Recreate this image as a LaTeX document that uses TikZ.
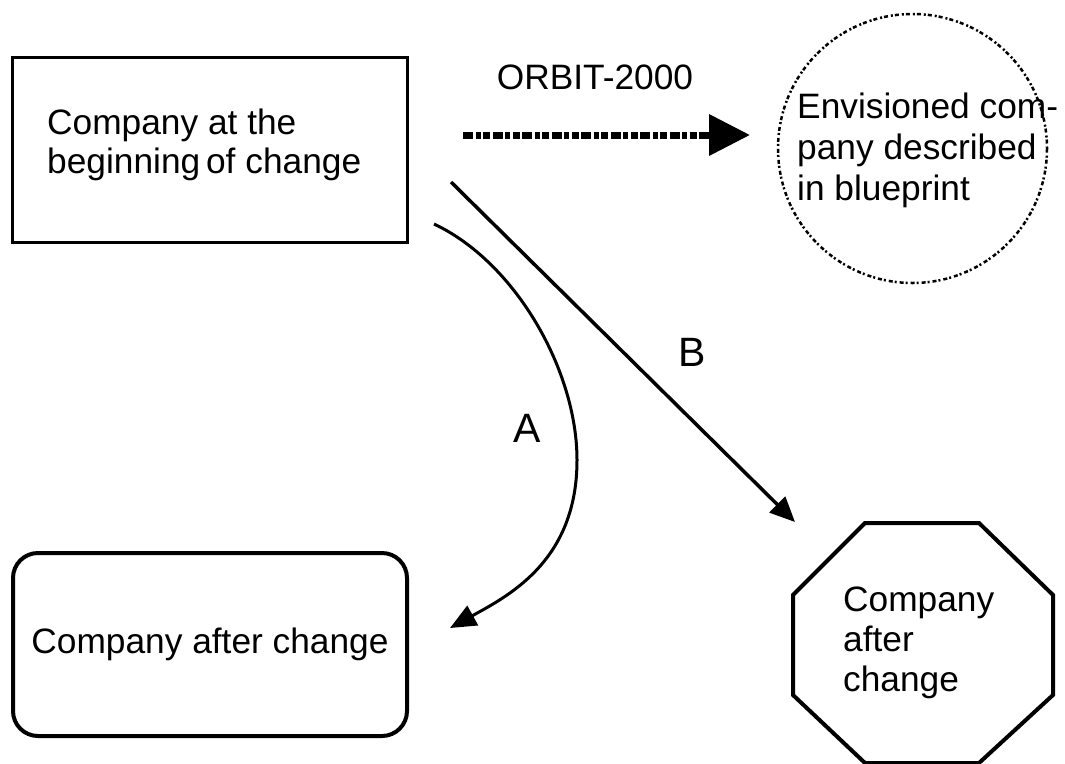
\documentclass[tikz,border=0pt]{standalone}
\usepackage{fontspec}
\setmainfont{Liberation Sans}
\usetikzlibrary{arrows.meta}
\begin{document}
\begin{tikzpicture}[x=1pt,y=-1pt,
  txt/.style={font=\fontsize{35.3}{39}\selectfont, inner sep=0pt, align=left},
  big/.style={font=\fontsize{41}{48}\selectfont, inner sep=0pt},
  boxline/.style={draw, line width=3pt, inner sep=0pt},
  heavy/.style={draw, line width=4pt, inner sep=0pt},
  orbitarrow/.style={line width=7pt, dash pattern=on 10pt off 2.5pt on 5pt off 2.5pt on 7pt off 2.5pt,
     -{Triangle[length=41pt,width=40pt]}},
  plainarrow/.style={line width=3.5pt, -{Triangle[length=25pt,width=22pt]}},
  curvearrow/.style={line width=3pt, -{Triangle[length=26pt,width=22pt]}}]
\useasboundingbox (0,0) rectangle (1065,763);

% top-left box
\node (start) [boxline, minimum width=395pt, minimum height=185pt] at (209.5,149.5) {};
\node (starttxt) [txt, anchor=west] at (47,145) {Company at the\\beginning\,of change};

% envisioned circle
\node (env) [circle, draw, line width=2.5pt, dash pattern=on 2pt off 3pt on 4pt off 2pt,
  minimum size=269pt, inner sep=0pt] at (912.5,148.5) {};
\node (envtxt) [txt, anchor=west, font=\fontsize{35.3}{41}\selectfont] at (797,150)
  {Envisioned com-\\pany described\\in blueprint};

% ORBIT-2000 arrow
\coordinate (o1) at (463,135);
\coordinate (o2) at (750,135);
\draw[orbitarrow] (o1) -- (o2);
\node (orbit) [txt] at (595,77) {ORBIT-2000};

% bottom-left rounded box
\node (after) [heavy, rounded corners=25pt, minimum width=394pt, minimum height=183pt,
  font=\fontsize{35.3}{39}\selectfont] at (210,644.5) {Company after change};

% octagon
\draw[line width=4pt, line join=miter] (865,523) -- (979,523) -- (1053,595) -- (1053,695)
  -- (979,763) -- (865,763) -- (793,695) -- (793,595) -- cycle;
\node (oct) [txt, anchor=west, font=\fontsize{35.3}{40}\selectfont] at (843,643)
  {Company\\after\\change};

% arrow B
\coordinate (bstart) at (451,182);
\coordinate (bend) at (795,522);
\draw[plainarrow] (bstart) -- (bend);
\node (lblB) [big] at (692,352) {B};

% arrow A
\coordinate (astart) at (434,224);
\coordinate (amid) at (577,460);
\coordinate (aend) at (450,628);
\draw[curvearrow] (astart) .. controls (515,262) and (577,370) .. (amid)
  .. controls (577,560) and (510,595) .. (aend);
\node (lblA) [big] at (527,428) {A};
\end{tikzpicture}
\end{document}
